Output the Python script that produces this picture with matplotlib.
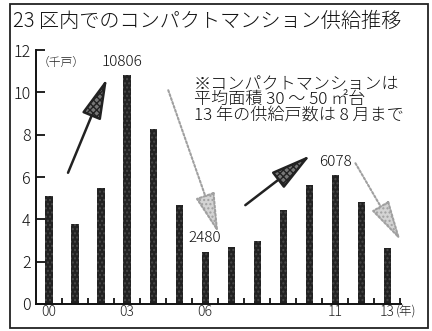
import matplotlib
matplotlib.use("Agg")
import matplotlib.pyplot as plt
from matplotlib.patches import FancyArrowPatch, Rectangle
import numpy as np

plt.rcParams['font.family'] = ['Noto Sans CJK JP', 'DejaVu Sans']
plt.rcParams['font.weight'] = 'light'

years = ["00", "01", "02", "03", "04", "05", "06", "07", "08", "09", "10", "11", "12", "13"]
supply = [5.1, 3.8, 5.5, 10.806, 8.25, 4.7, 2.48, 2.7, 3.0, 4.45, 5.6, 6.078, 4.8, 2.65]
shown_year_labels = ["00", "03", "06", "11", "13"]
yticks = [0, 2, 4, 6, 8, 10, 12]
value_labels = {"03": "10806", "06": "2480", "11": "6078"}
# trend arrows: (x0, y0, x1, y1, style)
arrows = [
    (0.73, 6.2, 2.23, 10.66, "up"),
    (4.58, 10.1, 6.5, 3.35, "down"),
    (7.54, 4.67, 10.04, 7.03, "up"),
    (11.77, 6.65, 13.5, 3.0, "down"),
]
title = "23 区内でのコンパクトマンション供給推移"
note = "※コンパクトマンションは\n平均面積 30 ～ 50 ㎡台\n13 年の供給戸数は 8 月まで"

W, H = 432, 331
fig = plt.figure(figsize=(W / 100, H / 100), dpi=100)
fig.patch.set_facecolor("white")

def fx(px):
    return px / W

def fy(py):
    return 1 - py / H

ax = fig.add_axes([fx(36), fy(304), fx(401) - fx(36), fy(50) - fy(304)])
x = np.arange(len(years))
ax.bar(x, supply, width=0.28, color="#222222", edgecolor="#484848", hatch="....", linewidth=0)

ax.set_xlim(-0.5, 13.52)
ax.set_ylim(0, 12)
for s in ["top", "right"]:
    ax.spines[s].set_visible(False)
ax.spines["left"].set_linewidth(1.4)
ax.spines["bottom"].set_linewidth(1.4)
ax.spines["left"].set_color("#111")
ax.spines["bottom"].set_color("#111")

ax.set_yticks(yticks)
ax.set_yticklabels([str(v) for v in yticks], fontsize=11.5, color="#111")
ax.tick_params(axis="y", direction="in", length=6.5, width=1.3, pad=4, colors="#111")

major_pos = [years.index(y) for y in shown_year_labels]
ax.set_xticks(major_pos)
ax.set_xticklabels(shown_year_labels, fontsize=10, color="#222")
ax.tick_params(axis="x", which="major", length=0, pad=1)
ax.set_xticks(np.arange(0.5, len(years), 1.0), minor=True)
ax.tick_params(axis="x", which="minor", direction="in", length=4, width=1.3, colors="#111")

for yr, txt in value_labels.items():
    i = years.index(yr)
    dx = -0.2 if yr == "03" else 0
    ax.text(i + dx, supply[i] + 0.3, txt, ha="center", va="bottom", fontsize=11, color="#111")

for x0, y0, x1, y1, st in arrows:
    if st == "up":
        a = FancyArrowPatch((x0, y0), (x1, y1), arrowstyle="-|>,head_length=1.8,head_width=0.45",
                            mutation_scale=14, lw=1.8, edgecolor="#222", facecolor="#777",
                            hatch="xxxxx", shrinkA=0, shrinkB=0)
    else:
        a = FancyArrowPatch((x0, y0), (x1, y1), arrowstyle="-|>,head_length=1.8,head_width=0.45",
                            mutation_scale=14, lw=1.5, edgecolor="#a0a0a0", facecolor="#d4d4d4",
                            hatch="....", linestyle=(0, (1, 1)), shrinkA=0, shrinkB=0)
    ax.add_patch(a)

fig.text(fx(13), fy(21), title, fontsize=14.5, ha="left", va="center", color="#111")
fig.text(fx(194), fy(100), note, fontsize=12.3, ha="left", va="center", linespacing=0.92, color="#111")
fig.text(fx(38), fy(62), "（千戸）", fontsize=8.5, ha="left", va="center", color="#222")
fig.text(fx(396), fy(312), "(年)", fontsize=9, ha="left", va="center", color="#222")

frame = Rectangle((fx(10), fy(328)), fx(428) - fx(10), fy(4) - fy(328), transform=fig.transFigure,
                  fill=False, edgecolor="#222", linewidth=1.3)
fig.patches.append(frame)

fig.savefig("out.png", dpi=100, facecolor="white")
